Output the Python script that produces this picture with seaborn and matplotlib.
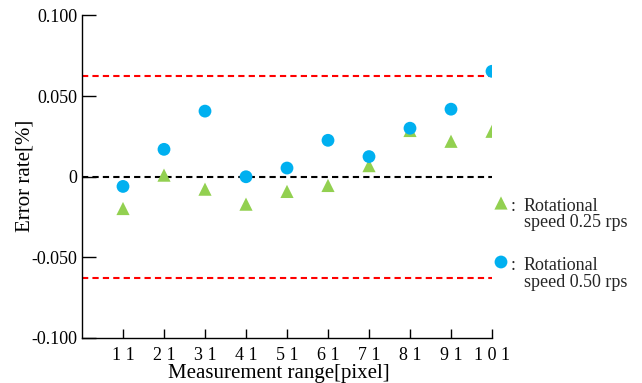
import matplotlib
matplotlib.use("Agg")
import matplotlib.pyplot as plt
import pandas as pd
import seaborn as sns

sns.set_theme(style="white")
plt.rcParams["font.family"] = ["Liberation Serif", "DejaVu Serif"]

# measurement range [pixel]
ranges = [11, 21, 31, 41, 51, 61, 71, 81, 91, 101]
range_labels = ["1 1", "2 1", "3 1", "4 1", "5 1", "6 1", "7 1", "8 1", "9 1", "1 0 1"]

# error rate [%]
err_025 = [-0.0197, 0.0010, -0.0077, -0.0170, -0.0091, -0.0054, 0.0069, 0.0287, 0.0220, 0.0282]
err_050 = [-0.0060, 0.0170, 0.0407, 0.0000, 0.0054, 0.0226, 0.0125, 0.0301, 0.0419, 0.0654]

limit = 0.0625
y_ticks = [0.100, 0.050, 0.0, -0.050, -0.100]
y_tick_labels = ["0.100", "0.050", "0", "-0.050", "-0.100"]

GREEN = "#92D050"
BLUE = "#00B0F0"

df = pd.DataFrame({
    "range": ranges * 2,
    "error": err_025 + err_050,
    "speed": ["0.25"] * len(ranges) + ["0.50"] * len(ranges),
})

fig = plt.figure(figsize=(6.42, 3.83), dpi=100)
ax = fig.add_axes([82 / 642, 45 / 383, 410 / 642, 322.5 / 383])

ax.axhline(limit, color="#FF0000", lw=1.5, ls=(0, (3, 2)), zorder=1)
ax.axhline(-limit, color="#FF0000", lw=1.5, ls=(0, (3, 2)), zorder=1)
ax.axhline(0, color="black", lw=1.5, ls=(0, (3, 2)), zorder=1)

sns.scatterplot(data=df[df["speed"] == "0.25"], x="range", y="error", ax=ax,
                marker="^", color=GREEN, s=90, edgecolor="none", zorder=3, legend=False)
sns.scatterplot(data=df[df["speed"] == "0.50"], x="range", y="error", ax=ax,
                marker="o", color=BLUE, s=85, edgecolor="none", zorder=4, legend=False)

ax.set_xlim(1, 101)
ax.set_ylim(-0.100, 0.100)
ax.set_xticks(ranges)
ax.set_xticklabels(range_labels)
ax.set_yticks(y_ticks)
ax.set_yticklabels(y_tick_labels)

for side in ["top", "right"]:
    ax.spines[side].set_visible(False)
for side in ["left", "bottom"]:
    ax.spines[side].set_color("black")
    ax.spines[side].set_linewidth(1.0)

ax.tick_params(axis="y", left=True, direction="in", length=10, width=1, pad=3.5,
               labelsize=13, colors="black")
ax.tick_params(axis="x", bottom=True, direction="in", length=6.5, width=1, pad=6.5,
               labelsize=13, colors="black")

ax.set_xlabel("Measurement range[pixel]", fontsize=15, color="black")
ax.set_ylabel("Error rate[%]", fontsize=15, color="black")
ax.xaxis.set_label_coords(0.48, -0.08)
ax.yaxis.set_label_coords(-0.115, 0.502)

# side legend
fig_h = 383
ax.scatter([501 / 642], [1 - 203 / fig_h], marker="^", s=90, color=GREEN,
           transform=fig.transFigure, clip_on=False, edgecolor="none")
ax.scatter([501 / 642], [1 - 262 / fig_h], marker="o", s=85, color=BLUE,
           transform=fig.transFigure, clip_on=False, edgecolor="none")
fig.text(511 / 642, 1 - 211 / fig_h, ":", fontsize=13, va="baseline")
fig.text(524 / 642, 1 - 211 / fig_h, "Rotational", fontsize=13, va="baseline")
fig.text(524 / 642, 1 - 227 / fig_h, "speed 0.25 rps", fontsize=13, va="baseline")
fig.text(511 / 642, 1 - 270 / fig_h, ":", fontsize=13, va="baseline")
fig.text(524 / 642, 1 - 270 / fig_h, "Rotational", fontsize=13, va="baseline")
fig.text(524 / 642, 1 - 287 / fig_h, "speed 0.50 rps", fontsize=13, va="baseline")

fig.savefig("out.png", dpi=100)
plt.close(fig)
